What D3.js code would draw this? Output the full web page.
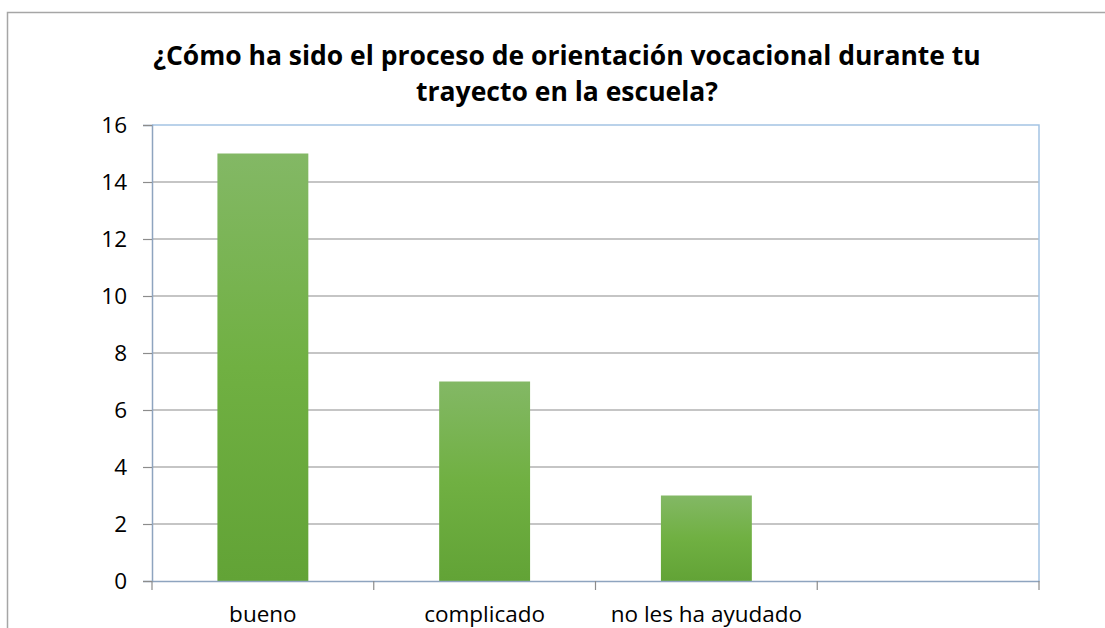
<!DOCTYPE html>
<meta charset="utf-8">
<body style="margin:0;background:#fff">
<script src="https://d3js.org/d3.v7.min.js"></script>
<script>
var categories = ["bueno", "complicado", "no les ha ayudado", ""];
var values = [15, 7, 3, null];
var yTicks = [0, 2, 4, 6, 8, 10, 12, 14, 16];
var titleLines = ["¿Cómo ha sido el proceso de orientación vocacional durante tu",
                  "trayecto en la escuela?"];

var width = 1105, height = 628;
var margin = {left: 152, right: 66, top: 125, bottom: 47};
var font = "Open Sans, Liberation Sans, sans-serif";

var svg = d3.select("body").append("svg")
    .attr("width", width)
    .attr("height", height)
    .style("display", "block");

var defs = svg.append("defs");
var grad = defs.append("linearGradient")
    .attr("id", "barGrad")
    .attr("x1", 0).attr("y1", 0).attr("x2", 0).attr("y2", 1);
grad.append("stop").attr("offset", "0%").attr("stop-color", "#83b865");
grad.append("stop").attr("offset", "50%").attr("stop-color", "#70b042");
grad.append("stop").attr("offset", "100%").attr("stop-color", "#62a336");

// outer chart frame
svg.append("rect")
    .attr("x", 7.5).attr("y", 12.5)
    .attr("width", width + 10).attr("height", height)
    .attr("fill", "none")
    .attr("stroke", "#a6a6a6")
    .attr("stroke-width", 1.5);

var x = d3.scaleBand()
    .domain(categories)
    .range([margin.left, width - margin.right])
    .paddingInner(0)
    .paddingOuter(0);

var y = d3.scaleLinear()
    .domain([0, 16])
    .range([height - margin.bottom, margin.top]);

var x0 = margin.left, x1 = width - margin.right;

// gridlines
svg.append("g").selectAll("line")
    .data(yTicks.filter(d => d > 0 && d < 16))
    .enter().append("line")
    .attr("x1", x0).attr("x2", x1)
    .attr("y1", d => y(d)).attr("y2", d => y(d))
    .attr("stroke", "#8c8c8c")
    .attr("stroke-width", 1.2);

// plot area border (top / right)
svg.append("path")
    .attr("d", "M" + x0 + "," + y(16) + "H" + x1 + "V" + y(0))
    .attr("fill", "none")
    .attr("stroke", "#a4c4e4")
    .attr("stroke-width", 1.5);

// bars
svg.append("g").selectAll("rect")
    .data(categories.map((c, i) => ({c: c, v: values[i]})).filter(d => d.v != null))
    .enter().append("rect")
    .attr("x", d => x(d.c) + x.bandwidth() * 0.295)
    .attr("width", x.bandwidth() * 0.41)
    .attr("y", d => y(d.v))
    .attr("height", d => y(0) - y(d.v))
    .attr("fill", "url(#barGrad)");

// y axis
var yAxis = d3.axisLeft(y).tickValues(yTicks).tickSize(9).tickPadding(16);
var gy = svg.append("g")
    .attr("transform", "translate(" + x0 + ",0)")
    .call(yAxis);
gy.select(".domain").attr("stroke", "#8ea4bf").attr("stroke-width", 1.5);
gy.selectAll(".tick line").attr("stroke", "#8c8c8c").attr("stroke-width", 1.2);
gy.selectAll(".tick text")
    .attr("font-family", font)
    .attr("font-size", 22.5)
    .attr("fill", "#000");

// x axis
var xAxis = d3.axisBottom(x).tickSize(0);
var gx = svg.append("g")
    .attr("transform", "translate(0," + y(0) + ")")
    .call(xAxis);
gx.select(".domain").attr("stroke", "#8ea4bf").attr("stroke-width", 1.5);
gx.selectAll(".tick text")
    .attr("font-family", font)
    .attr("font-size", 22.5)
    .attr("fill", "#000")
    .attr("y", 41)
    .attr("dy", 0);

// x tick marks at band boundaries
var bounds = categories.map(c => x(c)).concat([x1]);
svg.append("g").selectAll("line")
    .data(bounds)
    .enter().append("line")
    .attr("x1", d => d).attr("x2", d => d)
    .attr("y1", y(0)).attr("y2", y(0) + 9)
    .attr("stroke", "#8c8c8c")
    .attr("stroke-width", 1.2);

// title
svg.append("g").selectAll("text")
    .data(titleLines)
    .enter().append("text")
    .attr("x", 567)
    .attr("y", (d, i) => 65 + i * 36)
    .attr("text-anchor", "middle")
    .attr("font-family", font)
    .attr("font-weight", "bold")
    .attr("font-size", 26.5)
    .attr("fill", "#000")
    .text(d => d);
</script>
</body>
